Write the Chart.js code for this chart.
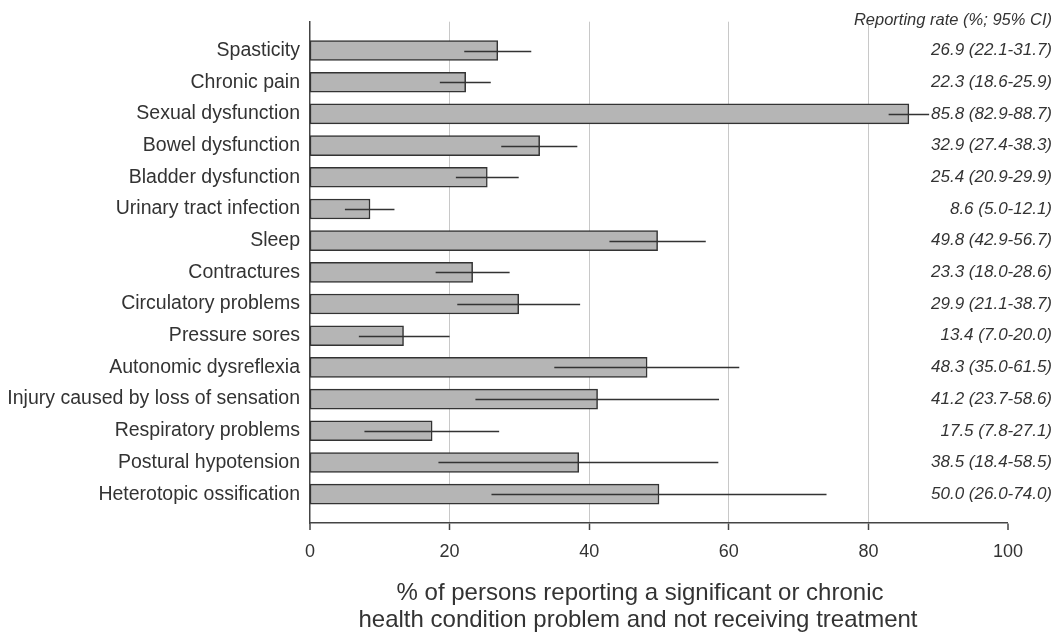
<!DOCTYPE html>
<html>
<head>
<meta charset="utf-8">
<script src="https://cdn.jsdelivr.net/npm/chart.js@4.4.1/dist/chart.umd.min.js"></script>
<style>
  html, body { margin: 0; padding: 0; background: #ffffff; }
  #wrap { width: 1056px; height: 634px; }
</style>
</head>
<body>
<div id="wrap"><canvas id="chart" width="1056" height="634"></canvas></div>
<script>
// Health conditions, in display order (top to bottom)
const categories = [
  'Spasticity',
  'Chronic pain',
  'Sexual dysfunction',
  'Bowel dysfunction',
  'Bladder dysfunction',
  'Urinary tract infection',
  'Sleep',
  'Contractures',
  'Circulatory problems',
  'Pressure sores',
  'Autonomic dysreflexia',
  'Injury caused by loss of sensation',
  'Respiratory problems',
  'Postural hypotension',
  'Heterotopic ossification'
];

// Reporting rate (%) with 95% confidence interval bounds
const rates   = [26.9, 22.3, 85.8, 32.9, 25.4, 8.6, 49.8, 23.3, 29.9, 13.4, 48.3, 41.2, 17.5, 38.5, 50.0];
const ciLower = [22.1, 18.6, 82.9, 27.4, 20.9, 5.0, 42.9, 18.0, 21.1, 7.0, 35.0, 23.7, 7.8, 18.4, 26.0];
const ciUpper = [31.7, 25.9, 88.7, 38.3, 29.9, 12.1, 56.7, 28.6, 38.7, 20.0, 61.5, 58.6, 27.1, 58.5, 74.0];

const xTicks = [0, 20, 40, 60, 80, 100];
const rightHeader = 'Reporting rate (%; 95% CI)';
const xTitle = ['% of persons reporting a significant or chronic',
                'health condition problem and not receiving treatment'];

const FONT = '"Liberation Sans", Arial, Helvetica, sans-serif';
const TEXT = '#333333';

function fmt(v) { return v.toFixed(1); }

const decorations = {
  id: 'decorations',
  beforeDraw(chart) {
    const c = chart.ctx;
    c.save();
    c.fillStyle = '#ffffff';
    c.fillRect(0, 0, chart.width, chart.height);
    c.restore();
  },
  afterDatasetsDraw(chart) {
    const c = chart.ctx;
    const xs = chart.scales.x, ys = chart.scales.y;
    c.save();
    c.strokeStyle = '#333333';
    c.lineWidth = 1.4;
    rates.forEach((v, i) => {
      const y = Math.round(ys.getPixelForValue(i)) + 0.5;
      c.beginPath();
      c.moveTo(xs.getPixelForValue(ciLower[i]), y);
      c.lineTo(xs.getPixelForValue(ciUpper[i]), y);
      c.stroke();
    });
    c.restore();
  },
  afterDraw(chart) {
    const c = chart.ctx;
    const ys = chart.scales.y;
    c.save();
    c.fillStyle = TEXT;
    // right-hand value column
    c.textAlign = 'right';
    c.textBaseline = 'middle';
    c.font = 'italic 16.5px ' + FONT;
    c.fillText(rightHeader, 1052, 20);
    c.font = 'italic 17px ' + FONT;
    rates.forEach((v, i) => {
      const label = fmt(v) + ' (' + fmt(ciLower[i]) + '-' + fmt(ciUpper[i]) + ')';
      c.fillText(label, 1052, ys.getPixelForValue(i));
    });
    // x-axis title
    c.textAlign = 'center';
    c.font = '24px ' + FONT;
    c.fillText(xTitle[0], 640, 593);
    c.fillText(xTitle[1], 638, 620);
    c.restore();
  }
};

new Chart(document.getElementById('chart'), {
  type: 'bar',
  data: {
    datasets: [{
      data: rates.map((v, i) => ({ x: v, y: i })),
      backgroundColor: '#b5b5b5',
      borderColor: '#333333',
      borderWidth: 1.5,
      borderSkipped: false,
      barThickness: 20
    }]
  },
  options: {
    indexAxis: 'y',
    responsive: false,
    animation: false,
    devicePixelRatio: 1,
    layout: { padding: { top: 21, right: 48, left: 0, bottom: 0 } },
    plugins: { legend: { display: false }, tooltip: { enabled: false } },
    scales: {
      x: {
        type: 'linear',
        min: 0,
        max: 100,
        afterBuildTicks(s) { s.ticks = xTicks.map(v => ({ value: v })); },
        afterFit(s) { s.height = 111; },
        ticks: {
          color: TEXT,
          font: { family: FONT, size: 18 },
          padding: 11,
          maxRotation: 0
        },
        grid: {
          color: '#c8c8c8',
          lineWidth: ctx => (ctx.tick && (ctx.tick.value === 0 || ctx.tick.value === 100)) ? 0 : 1,
          tickColor: '#444444',
          tickWidth: 1.5,
          tickLength: 7,
          drawTicks: true
        },
        border: { display: true, color: '#444444', width: 1.5 }
      },
      y: {
        type: 'linear',
        reverse: true,
        offset: false,
        min: -0.91,
        max: 14.91,
        afterBuildTicks(s) { s.ticks = categories.map((_, i) => ({ value: i })); },
        afterFit(s) { s.width = 310; },
        ticks: {
          color: TEXT,
          font: { family: FONT, size: 19.5 },
          padding: 10,
          callback: v => categories[v]
        },
        grid: { display: false, drawTicks: false, offset: false },
        border: { display: true, color: '#444444', width: 1.5 }
      }
    }
  },
  plugins: [decorations]
});
</script>
</body>
</html>
